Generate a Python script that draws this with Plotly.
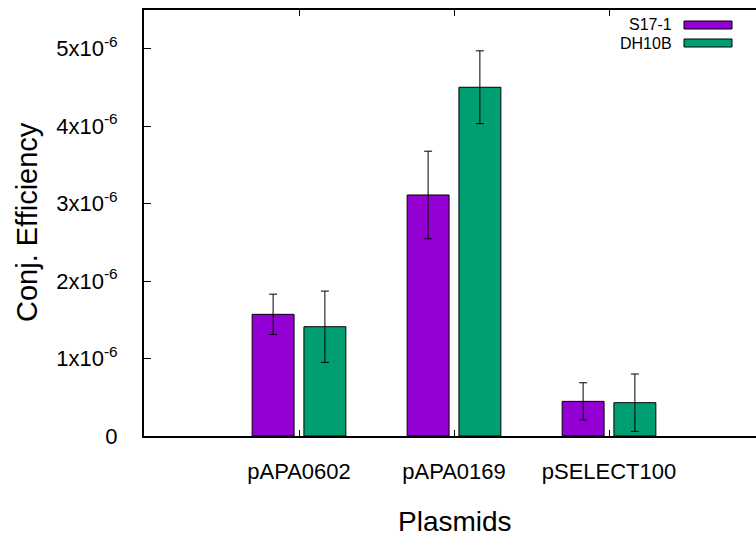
import plotly.graph_objects as go

categories = ["pAPA0602", "pAPA0169", "pSELECT100"]
s17_values = [1.57e-6, 3.11e-6, 0.447e-6]
s17_errors = [0.26e-6, 0.565e-6, 0.24e-6]
dh10b_values = [1.41e-6, 4.50e-6, 0.43e-6]
dh10b_errors = [0.46e-6, 0.47e-6, 0.37e-6]
series_names = ["S17-1", "DH10B"]
series_colors = ["#9400D3", "#009E73"]
ytick_vals = [0, 1e-6, 2e-6, 3e-6, 4e-6, 5e-6]
ytick_text = ["0", "1x10<sup>-6</sup>", "2x10<sup>-6</sup>", "3x10<sup>-6</sup>",
              "4x10<sup>-6</sup>", "5x10<sup>-6</sup>"]

W, H = 756, 538
L, R, T, B = 144, 756, 10, 436
FONT = "Liberation Sans, Arial, sans-serif"

def px_x(x):
    return (x - L) / (R - L)

def px_y(y):
    return (B - y) / (B - T)

fig = go.Figure()
for name, vals, errs, col in zip(series_names, [s17_values, dh10b_values],
                                 [s17_errors, dh10b_errors], series_colors):
    fig.add_trace(go.Bar(
        x=categories, y=vals, name=name,
        marker=dict(color=col, line=dict(color="black", width=1)),
        error_y=dict(type="data", array=errs, visible=True,
                     color="black", thickness=1, width=4),
        showlegend=False,
    ))

# custom legend (text left of swatch, like the reference)
legend_rows = [25, 43]
for name, col, yc in zip(series_names, series_colors, legend_rows):
    fig.add_annotation(x=px_x(674), y=px_y(yc), xref="paper", yref="paper",
                       text=name, showarrow=False, xanchor="right", yanchor="middle",
                       font=dict(family=FONT, size=16, color="black"))
    fig.add_shape(type="rect", xref="paper", yref="paper",
                  x0=px_x(684), x1=px_x(732), y0=px_y(yc - 4), y1=px_y(yc + 4),
                  fillcolor=col, line=dict(color="black", width=1))

# axis titles
fig.add_annotation(x=px_x(27), y=px_y(222), xref="paper", yref="paper",
                   text="Conj. Efficiency", showarrow=False, textangle=-90,
                   xanchor="center", yanchor="middle",
                   font=dict(family=FONT, size=29, color="black"))
fig.add_annotation(x=px_x(455), y=px_y(521), xref="paper", yref="paper",
                   text="Plasmids", showarrow=False,
                   xanchor="center", yanchor="middle",
                   font=dict(family=FONT, size=28, color="black"))

fig.update_layout(
    width=W, height=H,
    margin=dict(l=L, r=W - R, t=T, b=H - B, pad=0),
    paper_bgcolor="white", plot_bgcolor="white",
    barmode="group", bargap=0.332, bargroupgap=0.19,
    font=dict(family=FONT, size=22, color="black"),
)
fig.update_xaxes(
    type="category", range=[-1, -1 + (R - L) / 155],
    showline=True, linecolor="black", linewidth=2, mirror="ticks",
    ticks="inside", ticklen=6, tickcolor="black", tickwidth=1,
    showgrid=False, zeroline=False,
    tickfont=dict(family=FONT, size=22), ticklabelstandoff=15,
)
fig.update_yaxes(
    range=[0, (B - T) / 77.5 * 1e-6],
    tickvals=ytick_vals, ticktext=ytick_text,
    showline=True, linecolor="black", linewidth=2, mirror=False,
    ticks="inside", ticklen=7, tickcolor="black", tickwidth=1,
    showgrid=False, zeroline=False,
    tickfont=dict(family=FONT, size=22), ticklabelstandoff=20,
)

fig.write_html("out.html")
